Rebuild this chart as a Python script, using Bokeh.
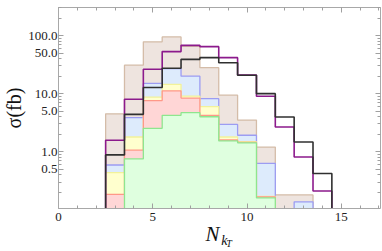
from bokeh.plotting import figure
from bokeh.models import (FixedTicker, LinearAxis, LogAxis, CustomJSTickFormatter,
                          Range1d, NumeralTickFormatter)
from bokeh.embed import file_html
from bokeh.resources import INLINE

# ---- data (bins centred on integer N_kT) ----
bin_centers = [3, 4, 5, 6, 7, 8, 9, 10, 11, 12, 13, 14]
brown  = [4.5, 30.9, 78.0, 95.0, 65.0, 28.0, 9.4, 3.5, 1.2, 0.18, 0.18, 0]
blue   = [0.59, 3.86, 15.0, 27.0, 20.0, 8.2, 2.95, 1.92, 0.63, 0, 0.137, 0]
yellow = [0.435, 1.79, 8.7, 14.5, 9.1, 6.0, 1.79, 1.49, 0.17, 0, 0, 0]
pink   = [0.184, 1.06, 7.6, 11.2, 8.4, 4.2, 1.59, 1.45, 0.167, 0, 0, 0]
green  = [0, 0.75, 2.53, 4.24, 4.7, 4.0, 1.53, 1.42, 0.16, 0, 0, 0]
black  = [0.88, 4.4, 12.8, 27.4, 39.0, 41.7, 34.0, 20.7, 10.0, 3.96, 1.47, 0.42]
purple = [1.57, 8.0, 26.4, 53.0, 68.0, 64.5, 41.7, 20.9, 9.0, 2.67, 0.81, 0.21]

x_major = [0, 5, 10, 15]
x_minor = list(range(0, 18))
y_major = [0.5, 1, 5, 10, 50, 100]
y_minor = [0.2, 0.3, 0.4, 0.6, 0.7, 0.8, 0.9, 2, 3, 4, 6, 7, 8, 9,
           20, 30, 40, 60, 70, 80, 90, 200, 300]

# x-axis title N_{k_T}: (text, x position in data units, font size, standoff)
xtitle_parts = [("N", 8.17, "21px", -2), ("k", 8.80, "14px", -16), ("T", 9.05, "10px", -13)]

FLOOR = 1e-3
SERIF = "Liberation Serif"


def step_path(vals):
    xs, ys = [], []
    first = True
    for c, v in zip(bin_centers, vals):
        v = v if v > 0 else FLOOR
        lo, hi = c - 0.5, c + 0.5
        if first:
            xs.append(lo); ys.append(FLOOR)
            first = False
        xs += [lo, hi]; ys += [v, v]
    xs.append(bin_centers[-1] + 0.5); ys.append(FLOOR)
    return xs, ys


p = figure(width=382, height=251, x_range=Range1d(0, 17.08), y_range=Range1d(0.105, 305),
           y_axis_type="log", output_backend="svg", toolbar_location=None,
           min_border_left=0, min_border_right=2, min_border_top=7, min_border_bottom=43)
p.grid.visible = False
p.outline_line_color = None
p.background_fill_color = "white"
p.border_fill_color = "white"

fills = [
    (brown, "#EEE4DF", "#D4BCA8"),
    (blue, "#DDEBFC", "#9C9CF2"),
    (yellow, "#FFFFCE", "#F2F29A"),
    (pink, "#FFD6D6", "#FF9888"),
    (green, "#DFFFDF", "#8EE68E"),
]
for vals, fc, lc in fills:
    xs, ys = step_path(vals)
    p.patch(xs, ys, fill_color=fc, line_color=lc, line_width=1.3)

for vals, lc in [(purple, "#8C1A8C"), (black, "#303030")]:
    xs, ys = step_path(vals)
    p.line(xs, ys, line_color=lc, line_width=1.6)

axis_col = "#A8A8A8"
tick_col = "#A0A0A0"

def style_axis(ax):
    ax.axis_line_color = axis_col
    ax.major_tick_line_color = tick_col
    ax.minor_tick_line_color = tick_col
    ax.major_tick_in = 5
    ax.major_tick_out = 0
    ax.minor_tick_in = 3
    ax.minor_tick_out = 0
    ax.major_label_text_font = SERIF
    ax.major_label_text_font_size = "13px"
    ax.major_label_text_color = "#222222"

xa = p.xaxis[0]
xa.ticker = FixedTicker(ticks=x_major, minor_ticks=x_minor)
style_axis(xa)
xa.major_label_standoff = 4

ya = p.yaxis[0]
ya.ticker = FixedTicker(ticks=y_major, minor_ticks=y_minor)
ya.formatter = NumeralTickFormatter(format="0.0")
style_axis(ya)
ya.major_label_standoff = 1
ya.axis_label = "σ(fb)"
ya.axis_label_text_font = SERIF
ya.axis_label_text_font_size = "20px"
ya.axis_label_text_font_style = "normal"
ya.axis_label_text_color = "#111111"
ya.axis_label_standoff = 0

blank = CustomJSTickFormatter(code="return ''")
top = LinearAxis(ticker=FixedTicker(ticks=x_major, minor_ticks=x_minor), formatter=blank)
style_axis(top)
top.major_label_standoff = 0
p.add_layout(top, "above")
right = LogAxis(ticker=FixedTicker(ticks=y_major, minor_ticks=y_minor), formatter=blank)
style_axis(right)
right.major_label_standoff = 0
p.add_layout(right, "right")

# x-axis title built from stacked label-only axes (text stays real text)
for txt, xpos, fsize, standoff in xtitle_parts:
    ax = LinearAxis(ticker=FixedTicker(ticks=[xpos], minor_ticks=[]),
                    formatter=CustomJSTickFormatter(args=dict(t=txt), code="return t"))
    ax.axis_line_color = None
    ax.major_tick_line_color = None
    ax.minor_tick_line_color = None
    ax.major_tick_in = 0
    ax.major_tick_out = 0
    ax.minor_tick_in = 0
    ax.minor_tick_out = 0
    ax.major_label_standoff = standoff
    ax.major_label_text_font = SERIF
    ax.major_label_text_font_style = "italic"
    ax.major_label_text_font_size = fsize
    ax.major_label_text_color = "#111111"
    p.add_layout(ax, "below")

open("out.html", "w").write(file_html(p, INLINE))
